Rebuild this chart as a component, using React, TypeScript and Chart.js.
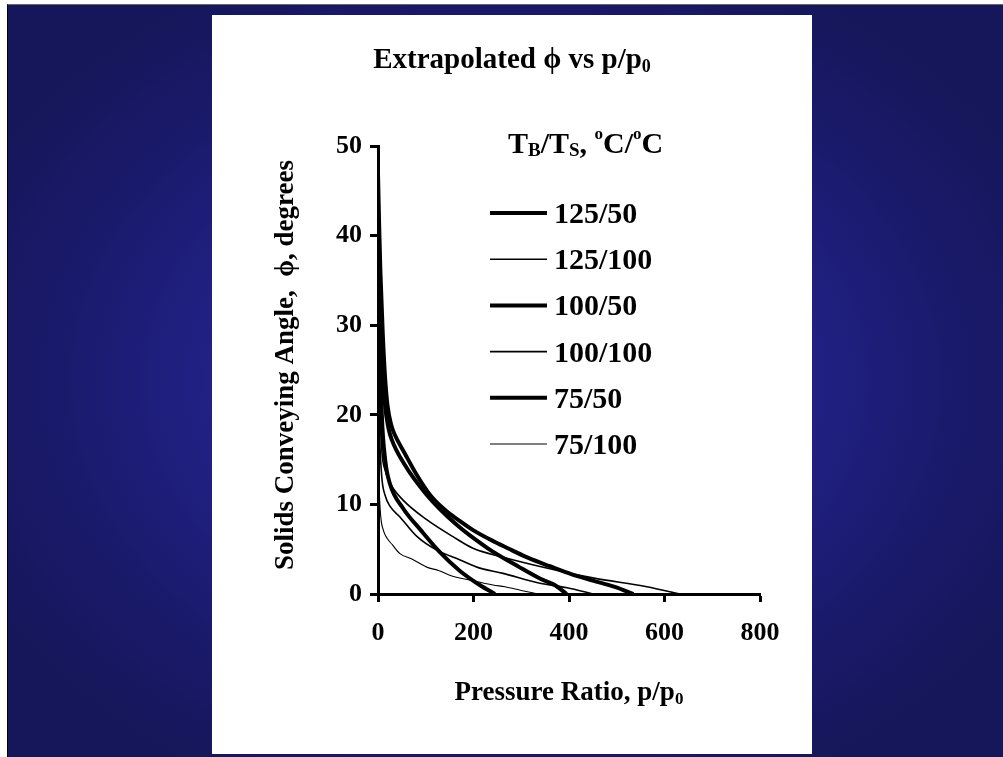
import React, { useEffect, useRef } from "react";
import { Chart, registerables } from "chart.js";

Chart.register(...registerables);

const FAMILY = "'Liberation Serif', 'Times New Roman', Times, serif";

// ---- data ----
const seriesLabels = ["125/50", "125/100", "100/50", "100/100", "75/50", "75/100"];
const seriesWidths = [4, 1.6, 4, 1.6, 4, 1.1];

const x125_50 = [0, 2, 5, 10, 15, 20, 28, 35, 57, 80, 110, 140, 170, 200, 245, 280, 316, 360, 406, 450, 496, 535];
const y125_50 = [47, 42, 36, 29, 24, 21, 18.8, 17.8, 15.6, 13.4, 11, 9.4, 8.2, 7.1, 5.8, 4.9, 4.0, 3.1, 2.2, 1.5, 0.8, 0];

const x125_100 = [0, 3, 8, 15, 25, 52, 102, 157, 199, 262, 353, 450, 563, 632];
const y125_100 = [30, 22, 16, 13.8, 12.4, 10.5, 8.3, 6.4, 5.1, 4.1, 2.9, 1.8, 0.8, 0];

const x100_50 = [0, 3, 8, 15, 22, 29, 55, 100, 163, 230, 296, 340, 370, 395];
const y100_50 = [44, 36, 27, 21, 18.5, 17.2, 14.5, 11.2, 7.8, 5.1, 3.0, 1.7, 1.0, 0];

const x100_100 = [0, 3, 8, 15, 25, 46, 82, 123, 172, 207, 262, 339, 396, 450];
const y100_100 = [25, 18, 13, 11, 9.8, 8.6, 6.4, 4.9, 3.8, 3.0, 2.3, 1.2, 0.7, 0];

const x75_50 = [0, 3, 8, 15, 25, 52, 90, 129, 171, 213, 245];
const y75_50 = [40, 30, 20, 15, 12.3, 9.6, 7.1, 4.7, 2.6, 1.0, 0];

const x75_100 = [0, 1, 3, 6, 12, 18, 30, 46, 71, 102, 128, 150, 197, 241, 266, 300, 335];
const y75_100 = [18, 14, 11, 8.5, 7, 6.3, 5.5, 4.5, 3.9, 3.0, 2.6, 2.1, 1.5, 1.0, 0.8, 0.4, 0];

const seriesX = [x125_50, x125_100, x100_50, x100_100, x75_50, x75_100];
const seriesY = [y125_50, y125_100, y100_50, y100_100, y75_50, y75_100];

const xMin = 0, xMax = 800, xStep = 200;
const yMin = 0, yMax = 50, yStep = 10;

type Seg = { t: string; size: number; dy?: number };

function drawSegs(ctx: CanvasRenderingContext2D, segs: Seg[], x: number, y: number, align: "left" | "center") {
  ctx.textAlign = "left";
  ctx.textBaseline = "alphabetic";
  const widths = segs.map((s) => {
    ctx.font = `bold ${s.size}px ${FAMILY}`;
    return ctx.measureText(s.t).width;
  });
  const total = widths.reduce((a, b) => a + b, 0);
  let cx = align === "center" ? x - total / 2 : x;
  segs.forEach((s, i) => {
    ctx.font = `bold ${s.size}px ${FAMILY}`;
    ctx.fillText(s.t, cx, y + (s.dy || 0));
    cx += widths[i];
  });
}

const textPlugin = {
  id: "texts",
  afterDraw(chart: any) {
    const ctx: CanvasRenderingContext2D = chart.ctx;
    const area = chart.chartArea;
    ctx.save();
    ctx.fillStyle = "#000";
    // main title
    drawSegs(ctx, [
      { t: "Extrapolated ", size: 29 },
      { t: "\u03D5", size: 29 },
      { t: " vs p/p", size: 29 },
      { t: "0", size: 18, dy: 4 },
    ], chart.width / 2, 53, "center");
    // x axis title
    drawSegs(ctx, [
      { t: "Pressure Ratio, p/p", size: 27 },
      { t: "0", size: 17, dy: 4 },
    ], (area.left + area.right) / 2, 685, "center");
    // y axis title
    ctx.save();
    ctx.translate(81, 350);
    ctx.rotate(-Math.PI / 2);
    drawSegs(ctx, [{ t: "Solids Conveying Angle,  \u03D5, degrees", size: 27 }], 0, 0, "center");
    ctx.restore();
    // legend title
    drawSegs(ctx, [
      { t: "T", size: 30 },
      { t: "B", size: 19, dy: 3 },
      { t: "/T", size: 30 },
      { t: "S", size: 19, dy: 3 },
      { t: ", ", size: 30 },
      { t: "o", size: 17, dy: -14 },
      { t: "C/", size: 30 },
      { t: "o", size: 17, dy: -14 },
      { t: "C", size: 30 },
    ], 296, 138, "left");
    // legend entries
    chart.data.datasets.forEach((ds: any, i: number) => {
      const yy = 198 + i * 46.2;
      ctx.beginPath();
      ctx.lineWidth = ds.borderWidth;
      ctx.strokeStyle = "#000";
      ctx.moveTo(278, yy);
      ctx.lineTo(335, yy);
      ctx.stroke();
      drawSegs(ctx, [{ t: ds.label, size: 30 }], 342, yy + 10, "left");
    });
    ctx.restore();
  },
};

export default function App() {
  const ref = useRef<HTMLCanvasElement | null>(null);

  useEffect(() => {
    if (!ref.current) return;
    const datasets = seriesLabels.map((label, i) => ({
      label,
      data: seriesX[i].map((x, j) => ({ x, y: seriesY[i][j] })),
      borderColor: "#000",
      backgroundColor: "#000",
      borderWidth: seriesWidths[i],
      pointRadius: 0,
      cubicInterpolationMode: "monotone" as const,
      fill: false,
    }));
    const chart = new Chart(ref.current, {
      type: "line",
      data: { datasets },
      options: {
        responsive: false,
        animation: false,
        layout: { padding: { top: 131, right: 52, bottom: 0, left: 0 } },
        plugins: { legend: { display: false }, title: { display: false }, tooltip: { enabled: false } },
        scales: {
          x: {
            type: "linear",
            min: xMin,
            max: xMax,
            ticks: { stepSize: xStep, color: "#000", font: { family: FAMILY, size: 26, weight: "bold" }, padding: 16 },
            grid: { drawOnChartArea: false, drawTicks: true, tickLength: 8, tickWidth: 3, tickColor: "#000", color: "#000" },
            border: { display: true, width: 3, color: "#000" },
            afterFit: (s: any) => { s.height = 160; },
          },
          y: {
            min: yMin,
            max: yMax,
            ticks: { stepSize: yStep, color: "#000", font: { family: FAMILY, size: 26, weight: "bold" }, padding: 8 },
            grid: { drawOnChartArea: false, drawTicks: true, tickLength: 8, tickWidth: 3, tickColor: "#000", color: "#000" },
            border: { display: true, width: 3, color: "#000" },
            afterFit: (s: any) => { s.width = 166; },
          },
        },
      },
      plugins: [textPlugin],
    });
    return () => chart.destroy();
  }, []);

  return (
    <div style={{ position: "absolute", left: 0, top: 0, width: 1003, height: 757, background: "#fff", overflow: "hidden" }}>
      <div
        style={{
          position: "absolute",
          left: 7,
          top: 4,
          width: 996,
          height: 753,
          boxSizing: "border-box",
          borderTop: "1px solid #666",
          borderLeft: "1px solid #000",
          background: "radial-gradient(ellipse 60% 60% at 50% 50%, #2a2a9c 0%, #22228a 45%, #1a1a6c 75%, #16165a 100%)",
        }}
      />
      <div style={{ position: "absolute", left: 212, top: 15, width: 600, height: 739, background: "#fff" }}>
        <canvas ref={ref} width={600} height={739} style={{ display: "block" }} />
      </div>
    </div>
  );
}
